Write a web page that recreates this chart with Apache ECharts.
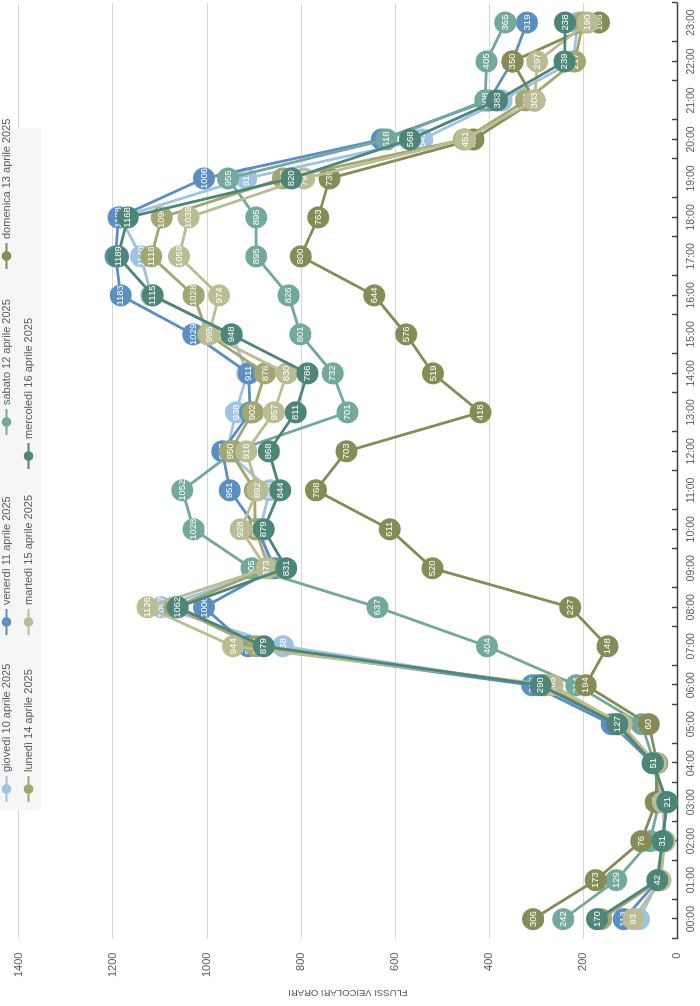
<!DOCTYPE html>
<html>
<head>
<meta charset="utf-8">
<script src="https://cdn.jsdelivr.net/npm/echarts@6/dist/echarts.min.js"></script>
<style>
html,body{margin:0;padding:0;background:#fff;width:700px;height:1006px;overflow:hidden;}
#chart{position:absolute;left:0;top:0;width:1006px;height:700px;transform-origin:0 0;transform:translate(0,1006px) rotate(-90deg);}
</style>
</head>
<body>
<div id="chart"></div>
<script>
const hours = ['00:00','01:00','02:00','03:00','04:00','05:00','06:00','07:00','08:00','09:00','10:00','11:00','12:00','13:00','14:00','15:00','16:00','17:00','18:00','19:00','20:00','21:00','22:00','23:00'];
const seriesNames = ['giovedì 10 aprile 2025','venerdì 11 aprile 2025','sabato 12 aprile 2025','domenica 13 aprile 2025','lunedì 14 aprile 2025','martedì 15 aprile 2025','mercoledì 16 aprile 2025'];
const giovedi   = [81,38,29,25,50,131,298,838,1097,862,887,866,957,938,914,946,1118,1140,1184,916,542,373,221,211];
const venerdi   = [113,40,30,22,52,139,308,912,1006,855,893,951,967,908,911,1029,1183,1194,1188,1006,628,400,350,319];
const sabato    = [242,129,57,38,48,75,214,404,637,905,1028,1052,942,701,732,801,826,895,895,955,618,408,405,365];
const domenica  = [306,173,76,45,42,60,194,148,227,520,611,768,703,418,519,576,644,800,763,739,433,303,350,166];
const lunedi    = [161,36,27,28,47,124,281,895,1069,868,897,898,950,902,876,998,1028,1118,1096,838,453,321,217,200];
const martedi   = [93,35,26,30,44,118,265,944,1126,873,928,892,916,857,830,995,974,1059,1039,793,451,303,297,190];
const mercoledi = [170,42,31,21,51,127,290,879,1062,831,879,844,868,811,786,948,1115,1189,1168,820,568,383,239,238];
const valueTicks = {min:0, max:1400, interval:200};
const axisTitle = 'FLUSSI VEICOLARI ORARI';

const allData = [giovedi, venerdi, sabato, domenica, lunedi, martedi, mercoledi];
const colors = ['#9fc3e2','#5b8fc2','#72a99c','#858c55','#a2a670','#babd94','#4e8579'];
const legendPos = [[203,1],[370,1],[570,1],[736,1],[203,23],[370,23],[536,23]];
const FONT = 'Liberation Sans, Arial, sans-serif';

const chart = echarts.init(document.getElementById('chart'), null, {renderer:'canvas', width:1006, height:700});

const series = allData.map((d,i)=>({
  name: seriesNames[i],
  type:'line',
  data:d,
  symbol:'circle',
  symbolSize:22,
  lineStyle:{width:2.8, color:colors[i]},
  itemStyle:{color:colors[i]},
  label:{show:true, position:'inside', color:'#ffffff', fontSize:9.5, fontFamily:FONT},
  emphasis:{disabled:true},
  z: 2 + i
}));

const legends = seriesNames.map((n,i)=>({
  data:[n],
  left:legendPos[i][0],
  top:legendPos[i][1],
  padding:0,
  itemWidth:26,
  itemHeight:12,
  itemGap:4,
  textStyle:{fontSize:11, color:'#595959', fontFamily:FONT, padding:[0,0,0,-1]},
  z:20
}));

chart.setOption({
  animation:false,
  color:colors,
  textStyle:{fontFamily:FONT},
  grid:{left:63, right:3, top:18.7, bottom:23, containLabel:false},
  graphic:[{type:'rect', shape:{x:196, y:0, width:682, height:41}, style:{fill:'#f6f6f6'}, z:15, silent:true}],
  legend:legends,
  xAxis:[{
    type:'category', data:hours, boundaryGap:true, position:'bottom',
    axisLine:{lineStyle:{color:'#404040', width:1.4}},
    axisTick:{show:true, inside:true, length:5, alignWithLabel:false, lineStyle:{color:'#404040', width:1.4}},
    axisLabel:{color:'#595959', fontSize:10.5, margin:9, fontFamily:FONT},
    splitLine:{show:false}
  },{
    type:'category', data:hours, boundaryGap:true, position:'bottom',
    axisLine:{show:false},
    axisTick:{show:true, inside:true, length:5, alignWithLabel:true, lineStyle:{color:'#404040', width:1.4}},
    axisLabel:{show:false},
    splitLine:{show:false}
  }],
  yAxis:{
    type:'value', min:valueTicks.min, max:valueTicks.max, interval:valueTicks.interval,
    name:axisTitle, nameLocation:'middle', nameGap:47, nameRotate:90,
    nameTextStyle:{color:'#595959', fontSize:9.5, fontFamily:FONT},
    axisLine:{show:false}, axisTick:{show:false},
    axisLabel:{color:'#595959', fontSize:11, margin:14, fontFamily:FONT, formatter:(v)=>String(v)},
    splitLine:{lineStyle:{color:'#d6d6d6', width:1}}
  },
  series:series
});
</script>
</body>
</html>
